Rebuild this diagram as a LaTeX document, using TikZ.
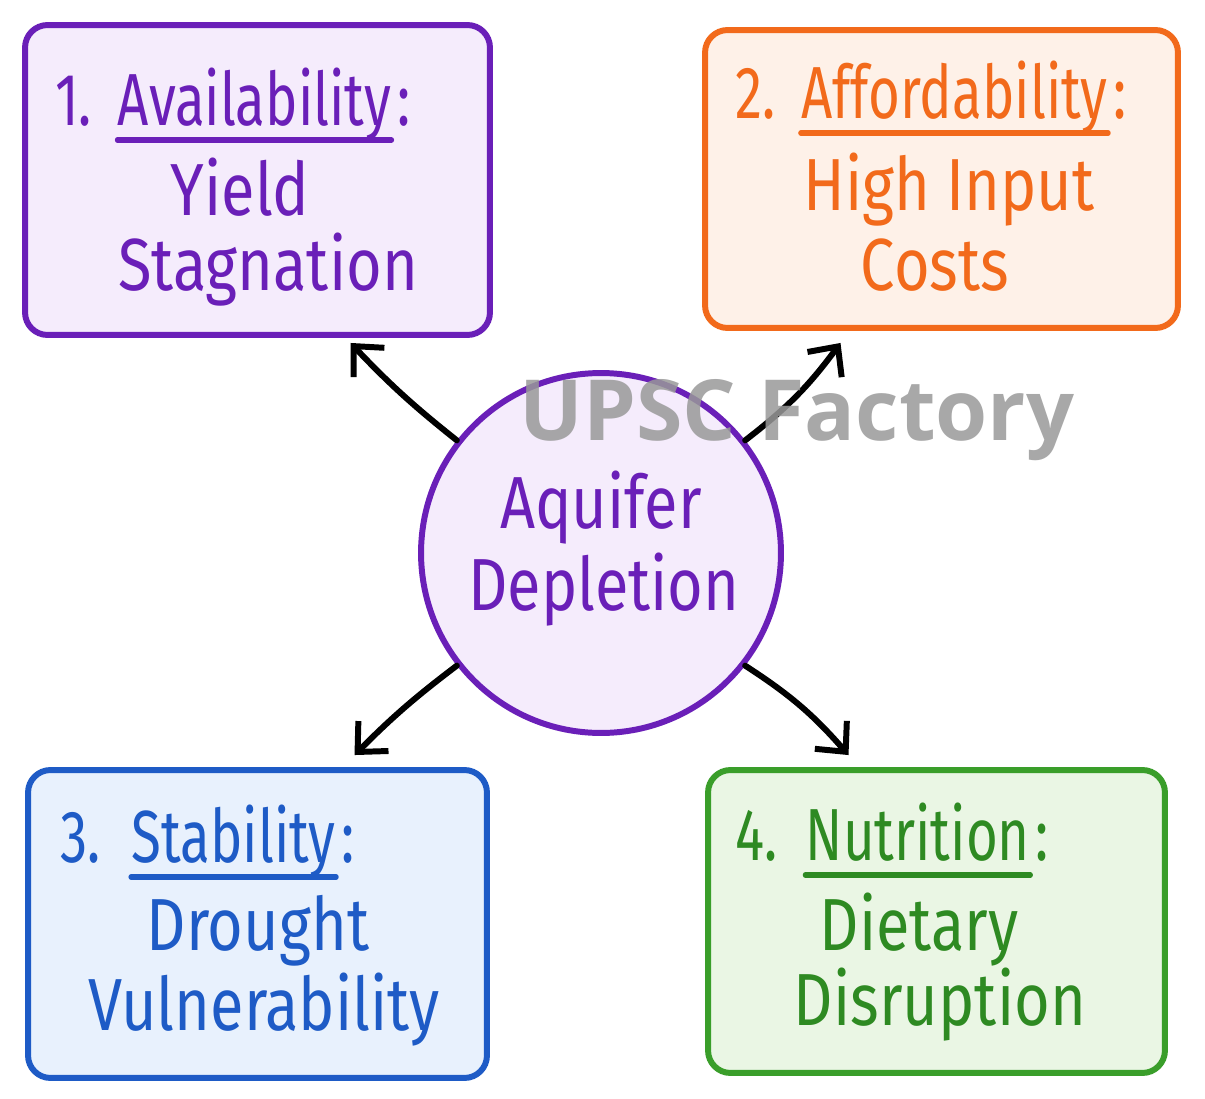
\documentclass[tikz,border=0pt]{standalone}
\usepackage{fontspec}
\setmainfont{Fira Sans}
\newfontfamily\handfont[FakeStretch=0.83]{Fira Sans}
\newfontfamily\headfont[FakeStretch=0.74]{Fira Sans}
\newfontfamily\markfont{Open Sans}
\usetikzlibrary{positioning,arrows.meta}

\definecolor{availline}{HTML}{6A1FB8}
\definecolor{availfill}{HTML}{F5ECFC}
\definecolor{affordline}{HTML}{F26A1B}
\definecolor{affordfill}{HTML}{FEF1E8}
\definecolor{stabline}{HTML}{1E5BC6}
\definecolor{stabfill}{HTML}{E8F1FD}
\definecolor{nutriline}{HTML}{3A9E2A}
\definecolor{nutrifill}{HTML}{EAF6E4}
\definecolor{nutritext}{HTML}{2E8A22}

\begin{document}
\begin{tikzpicture}[
      x=0.02cm, y=-0.02cm,
      /tikz/font=\handfont\fontsize{42}{46}\selectfont,
      boxframe/.style={draw, line width=3.4pt, rounded corners=0.45cm},
      words/.style={inner sep=0pt, anchor=base},
      headword/.style={inner sep=0pt, anchor=base, font=\headfont\fontsize{42}{46}\selectfont},
      numword/.style={headword, anchor=base west},
      uline/.style={line width=3pt, line cap=round},
      arr/.style={-{Straight Barb[length=4.5mm, width=8.5mm]}, line width=3.4pt, line cap=round},
    ]
    \fill[white] (0,0) rectangle (1205,1099);
    \useasboundingbox (0,0) rectangle (1205,1099);

    % 1. availability
    \node[boxframe, draw=availline, fill=availfill, minimum width=9.3cm, minimum height=6.2cm] (box1) at (257.5,180) {};
    \node[numword, text=availline] (num1) at (55,125) {1.};
    \node[headword, text=availline, base right=0.5cm of num1] (key1) {Availability};
    \node[headword, text=availline, base right=3pt of key1] (colon1) {:};
    \draw[uline, availline] ([yshift=-0.3cm]key1.base west) -- ([yshift=-0.3cm]key1.base east);
    \node[words, text=availline] (yield) at (240,215) {Yield};
    \node[words, text=availline] (stagn) at (268,290) {Stagnation};

    % 2. affordability
    \node[boxframe, draw=affordline, fill=affordfill, minimum width=9.46cm, minimum height=5.96cm] (box2) at (941.5,179) {};
    \node[numword, text=affordline] (num2) at (735,118) {2.};
    \node[headword, text=affordline, base right=0.5cm of num2] (key2) {Affordability};
    \node[headword, text=affordline, base right=3pt of key2] (colon2) {:};
    \draw[uline, affordline] ([yshift=-0.3cm]key2.base west) -- ([yshift=-0.3cm]key2.base east);
    \node[words, text=affordline] (input) at (949,210) {High Input};
    \node[words, text=affordline] (costs) at (935,290) {Costs};

    % 3. stability
    \node[boxframe, draw=stabline, fill=stabfill, minimum width=9.18cm, minimum height=6.16cm] (box3) at (257.5,924) {};
    \node[numword, text=stabline] (num3) at (60,862) {3.};
    \node[headword, text=stabline, base right=0.6cm of num3] (key3) {Stability};
    \node[headword, text=stabline, base right=3pt of key3] (colon3) {:};
    \draw[uline, stabline] ([yshift=-0.3cm]key3.base west) -- ([yshift=-0.3cm]key3.base east);
    \node[words, text=stabline] (drought) at (258,950) {Drought};
    \node[words, text=stabline] (vulner) at (264,1030) {Vulnerability};

    % 4. nutrition
    \node[boxframe, draw=nutriline, fill=nutrifill, minimum width=9.14cm, minimum height=6.06cm] (box4) at (936.5,921.5) {};
    \node[numword, text=nutritext] (num4) at (735,860) {4.};
    \node[headword, text=nutritext, base right=0.55cm of num4] (key4) {Nutrition};
    \node[headword, text=nutritext, base right=3pt of key4] (colon4) {:};
    \draw[uline, nutritext] ([yshift=-0.3cm]key4.base west) -- ([yshift=-0.3cm]key4.base east);
    \node[words, text=nutritext] (dietary) at (919,950) {Dietary};
    \node[words, text=nutritext] (disrupt) at (940,1025) {Disruption};

    % the hub
    \node[circle, draw=availline, fill=availfill, line width=3.4pt, minimum size=7.2cm] (hub) at (601,553) {};
    \node[words, text=availline] (aquifer) at (601,528) {Aquifer};
    \node[words, text=availline] (deplet) at (604,610) {Depletion};

    % arrows out of the hub
    \draw[arr] (hub.142) to[bend left=4] ([shift={(93,5)}]box1.south);
    \draw[arr] (hub.38) to[bend right=8] ([shift={(-101,12)}]box2.south);
    \draw[arr] (hub.218) to[bend right=4] ([shift={(97,-12)}]box3.north);
    \draw[arr] (hub.-38) to[bend left=8] ([shift={(-88,-12)}]box4.north);

    \node[words, text=black!40, opacity=0.85, font=\markfont\bfseries\fontsize{48}{48}\selectfont] (mark) at (797,440) {UPSC Factory};
  \end{tikzpicture}
\end{document}
